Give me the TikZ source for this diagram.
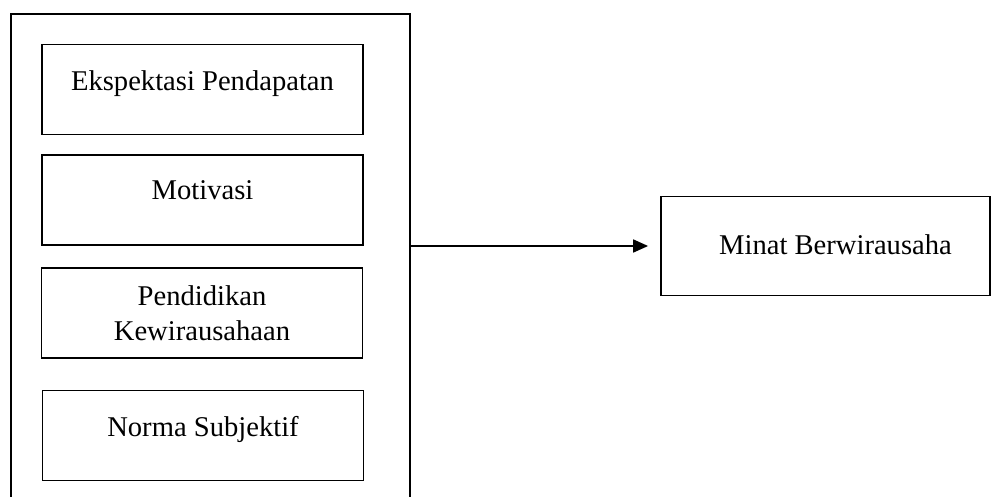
\documentclass[tikz,border=0pt]{standalone}
\usepackage{fontspec}
\setmainfont{Liberation Serif}
\usetikzlibrary{arrows.meta, positioning}
\tikzset{
  % Outer frame holding the independent variables
  groupframe/.style={
    rectangle, draw=black, line width=0.9pt, minimum width=199.5pt, minimum height=258pt
  },
  % Variable box (single font for all boxes)
  varbox/.style={
    rectangle, draw=black, line width=0.9pt, minimum width=160.5pt, minimum height=45pt,
    text centered, align=center, inner sep=0pt, font=\fontsize{14.3}{17.5}\selectfont
  },
  % Text sits a little above the middle in most boxes
  raised/.style={text height=10pt, text depth=#1},
  mainarrow/.style={-{Triangle[length=7.5pt, width=6.5pt]}, line width=0.9pt, color=black}
}
\begin{document}
\begin{tikzpicture}[x=0.5pt, y=-0.5pt]
  \clip (0, 0) rectangle (1000, 497);

  % Left: frame with the four factors
  \node[groupframe] (factors) at (210.5, 272) {};
  \node[varbox, raised=9pt] (ekspek) at (202.5, 89.5) {Ekspektasi Pendapatan};
  \node[varbox, raised=10pt] (motiv) at (202.5, 200) {Motivasi};
  \node[varbox] (pendidik) at (202, 313) {Pendidikan\\Kewirausahaan};
  \node[varbox, raised=9pt] (norma) at (203, 435.5) {Norma Subjektif};

  % Right: dependent variable
  \node[varbox, raised=1pt, minimum width=164.5pt, minimum height=49.5pt] (minat) at (825.5, 246) {\hspace*{10pt}Minat Berwirausaha};

  % --- Frame -> dependent variable ---
  \draw[mainarrow, shorten >=6pt] (factors.east |- minat.west) -- (minat.west);
\end{tikzpicture}
\end{document}
